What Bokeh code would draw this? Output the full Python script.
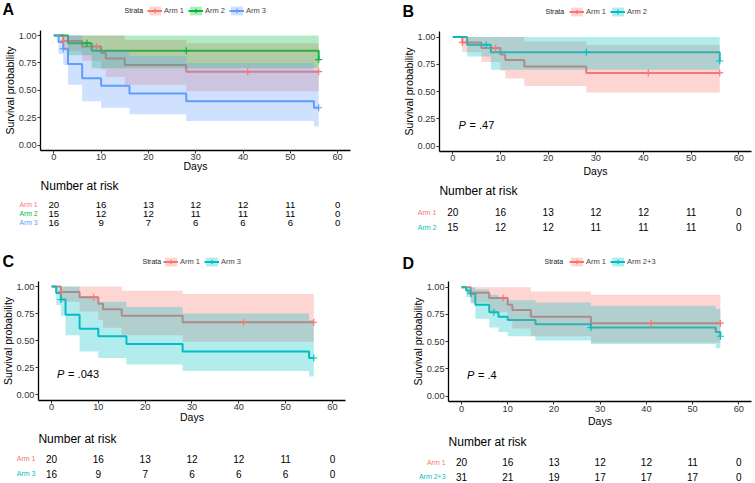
from bokeh.plotting import figure
from bokeh.models import (Range1d, Legend, LegendItem, NumeralTickFormatter,
                          FixedTicker)
from bokeh.layouts import gridplot
from bokeh.core.properties import value
from bokeh.embed import file_html
from bokeh.resources import INLINE

FONT = "Liberation Sans"

# ---------------- data ----------------
x_ticks = [0, 10, 20, 30, 40, 50, 60]
y_ticks = [0.0, 0.25, 0.5, 0.75, 1.0]
risk_times = [0, 10, 20, 30, 40, 50, 60]

# Arm 1
arm1_t = [0, 2, 6, 10, 11, 15, 28, 56]
arm1_s = [1.00, 0.95, 0.90, 0.84, 0.79, 0.73, 0.67, 0.67]
arm1_lo = [1.00, 0.86, 0.77, 0.69, 0.62, 0.55, 0.49, 0.49]
arm1_hi = [1.00, 1.00, 1.00, 1.00, 1.00, 0.96, 0.93, 0.93]
arm1_ct = [2, 9, 41, 56]
arm1_cs = [0.95, 0.90, 0.67, 0.67]
arm1_risk = [20, 16, 13, 12, 12, 11, 0]

# Arm 2
arm2_t = [0, 3, 8, 56]
arm2_s = [1.00, 0.93, 0.86, 0.78]
arm2_lo = [1.00, 0.82, 0.70, 0.59]
arm2_hi = [1.00, 1.00, 1.00, 1.00]
arm2_ct = [7, 28, 56]
arm2_cs = [0.93, 0.86, 0.78]
arm2_risk = [15, 12, 12, 11, 11, 11, 0]

# Arm 3
arm3_t = [0, 1, 2, 3, 6, 10, 16, 28, 55, 56]
arm3_s = [1.00, 0.94, 0.88, 0.74, 0.61, 0.54, 0.47, 0.40, 0.34, 0.34]
arm3_lo = [1.00, 0.83, 0.73, 0.55, 0.40, 0.34, 0.28, 0.22, 0.17, 0.17]
arm3_hi = [1.00, 1.00, 1.00, 1.00, 0.91, 0.86, 0.81, 0.75, 0.69, 0.69]
arm3_ct = [2, 56]
arm3_cs = [0.88, 0.34]
arm3_risk = [16, 9, 7, 6, 6, 6, 0]

# Arm 2+3
arm23_t = [0, 1, 2, 3, 6, 8, 10, 16, 28, 55, 56]
arm23_s = [1.00, 0.97, 0.94, 0.84, 0.77, 0.73, 0.70, 0.66, 0.63, 0.59, 0.55]
arm23_lo = [1.00, 0.91, 0.85, 0.71, 0.63, 0.59, 0.55, 0.51, 0.48, 0.44, 0.40]
arm23_hi = [1.00, 1.00, 1.00, 0.98, 0.93, 0.91, 0.88, 0.86, 0.83, 0.80, 0.77]
arm23_ct = [2, 7, 28, 56]
arm23_cs = [0.94, 0.77, 0.63, 0.55]
arm23_risk = [31, 21, 19, 17, 17, 17, 0]

p_values = {"B": ".47", "C": ".043", "D": ".4"}

RED = "#F8766D"
GREEN = "#00BA38"
BLUE = "#619CFF"
CYAN = "#00BFC4"

X_LO, X_HI = -2.8, 62.7     # axis extent (days)
Y_LO, Y_HI = -0.05, 1.05    # axis extent (probability)


def arm(name, color, t, s, lo, hi, ct, cs, risk):
    return dict(name=name, color=color, t=t, s=s, lo=lo, hi=hi, ct=ct, cs=cs, risk=risk)


def step_band(t, lo, hi):
    xs, y1, y2 = [], [], []
    for i in range(len(t)):
        if i > 0:
            xs.append(t[i]); y1.append(lo[i - 1]); y2.append(hi[i - 1])
        xs.append(t[i]); y1.append(lo[i]); y2.append(hi[i])
    return xs, y1, y2


def make_panel(letter, arms, pval, W, H, X0, k, Y1, Y0, lay):
    """X0: pixel of day 0, k: px per day, Y1/Y0: pixel rows of prob 1 and 0."""
    m = Y0 - Y1
    xr = Range1d(-X0 / k, (W - X0) / k)
    yr = Range1d((Y0 - H) / m, Y0 / m)

    def dx(px):   # pixel column -> data x
        return (px - X0) / k

    def dy(py):   # pixel row -> data y
        return (Y0 - py) / m

    p = figure(width=W, height=H, x_range=xr, y_range=yr,
               output_backend="svg", toolbar_location=None, min_border=0)
    p.outline_line_color = None
    p.grid.visible = False
    p.background_fill_color = "white"
    p.border_fill_color = "white"

    lines, bands, cens = [], [], []
    for a in arms:
        lines.append(p.step(a["t"], a["s"], mode="after",
                            line_color=a["color"], line_width=2))
    for a in arms:
        xs, y1, y2 = step_band(a["t"], a["lo"], a["hi"])
        bands.append(p.varea(x=xs, y1=y1, y2=y2, fill_color=a["color"],
                             fill_alpha=0.3))
    for a in arms:
        cens.append(p.scatter(a["ct"], a["cs"], marker="cross", size=7,
                              line_color=a["color"], line_width=1.2))

    # axes drawn at fixed data locations, limited to the plot box
    xa, ya = p.xaxis[0], p.yaxis[0]
    xa.fixed_location = Y_LO
    xa.bounds = (X_LO, X_HI)
    ya.fixed_location = X_LO
    ya.bounds = (Y_LO, Y_HI)
    xa.ticker = FixedTicker(ticks=x_ticks)
    ya.ticker = FixedTicker(ticks=y_ticks)
    ya.formatter = NumeralTickFormatter(format="0.00")
    xa.axis_label = "Days"
    ya.axis_label = "Survival probability"
    for ax in (xa, ya):
        ax.axis_line_color = "black"
        ax.axis_line_width = 1.3
        ax.major_tick_line_color = "#333333"
        ax.major_tick_out = 3
        ax.major_tick_in = 0
        ax.minor_tick_line_color = None
        ax.major_label_text_font = FONT
        ax.major_label_text_font_size = "9.2px"
        ax.major_label_text_color = "#333333"
        ax.axis_label_text_font = FONT
        ax.axis_label_text_font_size = "10.5px"
        ax.axis_label_text_font_style = "normal"
        ax.axis_label_text_color = "black"
    xa.major_label_standoff = 1
    xa.axis_label_standoff = lay["days_standoff"]
    ya.major_label_standoff = 1
    ya.axis_label_standoff = 0

    # panel letter
    p.text(x=[dx(lay["letter"][0])], y=[dy(lay["letter"][1])], text=[letter],
           text_font=value(FONT), text_font_size="16px", text_font_style="bold",
           text_baseline="top", text_align="left", text_color="black")

    # legend
    p.text(x=[dx(lay["strata_x"])], y=[dy(lay["legend_y"])], text=["Strata"],
           text_font=value(FONT), text_font_size="7px", text_baseline="middle",
           text_align="left", text_color="#222222")
    items = [LegendItem(label=value(a["name"]), renderers=[b, l, c])
             for a, b, l, c in zip(arms, bands, lines, cens)]
    legend = Legend(items=items,
                    location=(lay["legend_x"], H - lay["legend_y"] - 5.5),
                    orientation="horizontal", padding=0, margin=0, spacing=4,
                    label_standoff=2, glyph_width=15, glyph_height=11,
                    label_height=11, label_text_font=FONT,
                    label_text_font_size="7.5px", label_text_baseline="middle",
                    background_fill_alpha=0, border_line_alpha=0)
    p.add_layout(legend)

    # p-value
    if pval is not None:
        p.text(x=[1.2], y=[0.19], text=["P"], text_font=value(FONT),
               text_font_style="italic", text_font_size="11px",
               text_baseline="middle", text_align="left", text_color="black")
        p.text(x=[1.2], y=[0.19], text=["= " + pval], x_offset=11,
               text_font=value(FONT), text_font_size="11px",
               text_baseline="middle", text_align="left", text_color="black")

    # number at risk table
    p.text(x=[X_LO], y=[dy(lay["risk_title"])], text=["Number at risk"],
           text_font=value(FONT), text_font_size="12px", text_baseline="middle",
           text_align="left", text_color="black")
    for a, row in zip(arms, lay["rows"]):
        p.text(x=risk_times, y=[dy(row)] * len(risk_times),
               text=[str(n) for n in a["risk"]], text_font=value(FONT),
               text_font_size=lay["num_size"], text_align="center",
               text_baseline="middle", text_color="black")
        p.text(x=[X_LO], y=[dy(row)], x_offset=-3, text=[a["name"]],
               text_font=value(FONT), text_font_size=lay["lab_size"],
               text_align="right", text_baseline="middle",
               text_color=a["color"])
    return p


A_arms = [arm("Arm 1", RED, arm1_t, arm1_s, arm1_lo, arm1_hi, arm1_ct, arm1_cs, arm1_risk),
          arm("Arm 2", GREEN, arm2_t, arm2_s, arm2_lo, arm2_hi, arm2_ct, arm2_cs, arm2_risk),
          arm("Arm 3", BLUE, arm3_t, arm3_s, arm3_lo, arm3_hi, arm3_ct, arm3_cs, arm3_risk)]
B_arms = [arm("Arm 1", RED, arm1_t, arm1_s, arm1_lo, arm1_hi, arm1_ct, arm1_cs, arm1_risk),
          arm("Arm 2", CYAN, arm2_t, arm2_s, arm2_lo, arm2_hi, arm2_ct, arm2_cs, arm2_risk)]
C_arms = [arm("Arm 1", RED, arm1_t, arm1_s, arm1_lo, arm1_hi, arm1_ct, arm1_cs, arm1_risk),
          arm("Arm 3", CYAN, arm3_t, arm3_s, arm3_lo, arm3_hi, arm3_ct, arm3_cs, arm3_risk)]
D_arms = [arm("Arm 1", RED, arm1_t, arm1_s, arm1_lo, arm1_hi, arm1_ct, arm1_cs, arm1_risk),
          arm("Arm 2+3", CYAN, arm23_t, arm23_s, arm23_lo, arm23_hi, arm23_ct, arm23_cs, arm23_risk)]

lay_A = dict(letter=(2, 0), strata_x=124, legend_x=147, legend_y=10,
             risk_title=185.5, rows=[204, 213, 222], num_size="9.6px",
             lab_size="6.8px", days_standoff=-4)
lay_B = dict(letter=(25, 2), strata_x=168, legend_x=192, legend_y=11,
             risk_title=190, rows=[211.7, 226.7], num_size="10px",
             lab_size="7px", days_standoff=0)
lay_C = dict(letter=(2, 10), strata_x=142, legend_x=163, legend_y=19,
             risk_title=196.3, rows=[216.3, 231.3], num_size="10px",
             lab_size="7px", days_standoff=-3)
lay_D = dict(letter=(25, 12), strata_x=167, legend_x=192, legend_y=19,
             risk_title=199, rows=[219.5, 234], num_size="10px",
             lab_size="7px", days_standoff=0)

pA = make_panel("A", A_arms, None, 377, 242, 53.3, 4.73, 35, 144.5, lay_A)
pB = make_panel("B", B_arms, p_values["B"], 377, 242, 75.3, 4.767, 36.5, 145.5, lay_B)
pC = make_panel("C", C_arms, p_values["C"], 377, 240, 51, 4.683, 44, 152.3, lay_C)
pD = make_panel("D", D_arms, p_values["D"], 377, 240, 84, 4.622, 44.7, 153.7, lay_D)

grid = gridplot([[pA, pB], [pC, pD]], toolbar_location=None)

open("out.html", "w").write(file_html(grid, INLINE))
